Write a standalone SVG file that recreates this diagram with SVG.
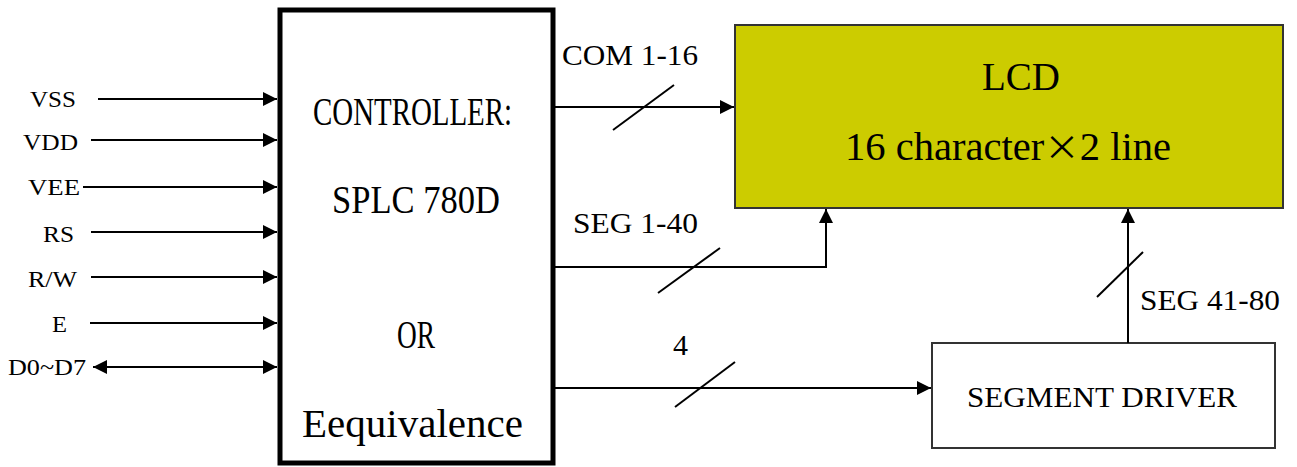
<svg xmlns="http://www.w3.org/2000/svg" width="1297" height="467" viewBox="0 0 1297 467">
<style>
.lbl{font-family:"Liberation Serif","Times New Roman",serif;fill:#000}
.mono{font-family:"Liberation Serif","Times New Roman",serif;fill:#000;font-size:40px}
.wire{stroke:#000;stroke-width:2;fill:none}
.slash{stroke:#000;stroke-width:2}
</style>
<defs>
<marker id="ah" markerUnits="userSpaceOnUse" markerWidth="15" markerHeight="14" refX="14" refY="7" orient="auto-start-reverse"><path d="M0,0 L14,7 L0,14 z" fill="#000"/></marker>
</defs>
<rect width="1297" height="467" fill="#fff"/>
<g id="controller">
<rect x="280" y="10" width="273" height="453" fill="#fff" stroke="#000" stroke-width="5"/>
<text class="mono" x="313" y="125" textLength="199" lengthAdjust="spacingAndGlyphs">CONTROLLER:</text>
<text class="mono" x="332" y="213" textLength="168" lengthAdjust="spacingAndGlyphs">SPLC 780D</text>
<text class="mono" x="397" y="348" textLength="38" lengthAdjust="spacingAndGlyphs">OR</text>
<text class="mono" x="302" y="437" textLength="221" lengthAdjust="spacingAndGlyphs">Eequivalence</text>
</g>
<g id="lcd">
<rect x="735" y="25" width="548" height="183" fill="#CCCC00" stroke="#333" stroke-width="2"/>
<text class="lbl" x="982" y="90" font-size="39" textLength="78" lengthAdjust="spacingAndGlyphs">LCD</text>
<text class="lbl" x="845" y="160" font-size="39" textLength="326" lengthAdjust="spacingAndGlyphs">16 character<tspan font-family="Noto Sans CJK SC, sans-serif" font-size="34">×</tspan>2 line</text>
</g>
<g id="segment-driver">
<rect x="932" y="343" width="343" height="105" fill="#fff" stroke="#333" stroke-width="2"/>
<text class="lbl" x="967" y="407" font-size="29" textLength="270" lengthAdjust="spacingAndGlyphs">SEGMENT DRIVER</text>
</g>
<g id="input-labels" class="lbl" font-size="24">
<text x="30" y="107" textLength="46" lengthAdjust="spacingAndGlyphs">VSS</text>
<text x="23" y="150" textLength="55" lengthAdjust="spacingAndGlyphs">VDD</text>
<text x="28" y="195" textLength="52" lengthAdjust="spacingAndGlyphs">VEE</text>
<text x="43" y="242" textLength="31" lengthAdjust="spacingAndGlyphs">RS</text>
<text x="28" y="287" textLength="49" lengthAdjust="spacingAndGlyphs">R/W</text>
<text x="52" y="332" textLength="15" lengthAdjust="spacingAndGlyphs">E</text>
<text x="8" y="375" textLength="78" lengthAdjust="spacingAndGlyphs">D0~D7</text>
</g>
<g id="connectors">
<line class="wire" x1="98" y1="99" x2="277" y2="99" marker-end="url(#ah)"/>
<line class="wire" x1="91" y1="140" x2="277" y2="140" marker-end="url(#ah)"/>
<line class="wire" x1="83" y1="187" x2="277" y2="187" marker-end="url(#ah)"/>
<line class="wire" x1="91" y1="232" x2="277" y2="232" marker-end="url(#ah)"/>
<line class="wire" x1="91" y1="277" x2="277" y2="277" marker-end="url(#ah)"/>
<line class="wire" x1="90" y1="323" x2="277" y2="323" marker-end="url(#ah)"/>
<line class="wire" x1="93" y1="367" x2="277" y2="367" stroke-width="3" marker-start="url(#ah)" marker-end="url(#ah)"/>
<line class="wire" x1="555" y1="107" x2="734" y2="107" marker-end="url(#ah)"/>
<line class="slash" x1="613" y1="130" x2="674" y2="85"/>
<polyline class="wire" points="555,267 826,267 826,209" marker-end="url(#ah)"/>
<line class="slash" x1="658" y1="293" x2="720" y2="248"/>
<line class="wire" x1="555" y1="388" x2="931" y2="388" marker-end="url(#ah)"/>
<line class="slash" x1="675" y1="407" x2="735" y2="362"/>
<line class="wire" x1="1128" y1="343" x2="1128" y2="209" marker-end="url(#ah)"/>
<line class="slash" x1="1097" y1="297" x2="1143" y2="252"/>
</g>
<g id="connector-labels" class="lbl" font-size="30">
<text x="562" y="65" textLength="136" lengthAdjust="spacingAndGlyphs">COM 1-16</text>
<text x="573" y="233" textLength="125" lengthAdjust="spacingAndGlyphs">SEG 1-40</text>
<text x="673" y="355">4</text>
<text x="1140" y="310" textLength="140" lengthAdjust="spacingAndGlyphs">SEG 41-80</text>
</g>
</svg>
